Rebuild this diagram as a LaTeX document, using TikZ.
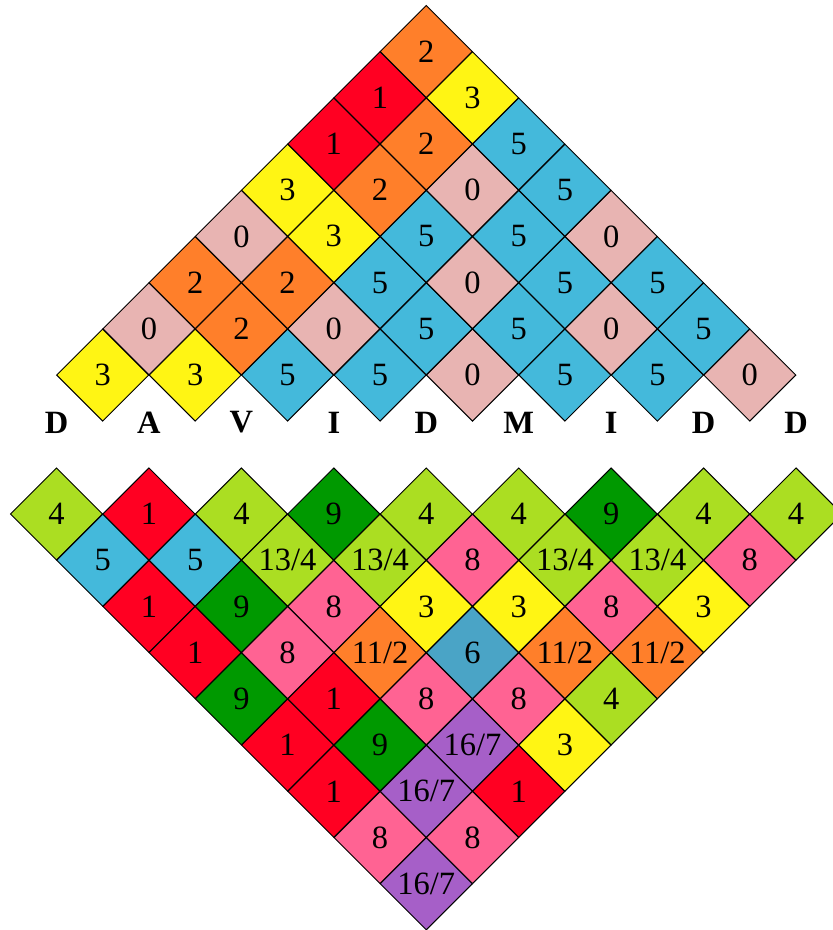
\documentclass[tikz,border=0pt]{standalone}
\usepackage{fontspec}
\setmainfont{Liberation Serif}
\usetikzlibrary{shapes.geometric}

\definecolor{yel}{HTML}{FFF514}
\definecolor{ros}{HTML}{E8B4B2}
\definecolor{org}{HTML}{FF7F2A}
\definecolor{rd}{HTML}{FF0022}
\definecolor{blu}{HTML}{44B9DB}
\definecolor{stl}{HTML}{4AA4C6}
\definecolor{lim}{HTML}{ABDE22}
\definecolor{grn}{HTML}{009900}
\definecolor{pnk}{HTML}{FF6393}
\definecolor{pur}{HTML}{A65FC8}

\newcommand*{\topy}{8.114}
\newcommand*{\boty}{11.12}
\newcommand*{\lety}{9.14}

\begin{document}
\begin{tikzpicture}
[
	cell/.style={diamond,draw,line width=0.6pt,inner sep=0pt,minimum width=2cm,minimum height=2cm,font=\fontsize{20}{24}\selectfont},
	letter/.style={font=\fontsize{20}{24}\selectfont\bfseries}
]
	\useasboundingbox (-1.222,0) rectangle (16.778,-20.12);

	% upper triangle, bottom row first
	\foreach \row [count=\r from 0] in {
	  {3/yel,3/yel,5/blu,5/blu,0/ros,5/blu,5/blu,0/ros},
	  {0/ros,2/org,0/ros,5/blu,5/blu,0/ros,5/blu},
	  {2/org,2/org,5/blu,0/ros,5/blu,5/blu},
	  {0/ros,3/yel,5/blu,5/blu,0/ros},
	  {3/yel,2/org,0/ros,5/blu},
	  {1/rd,2/org,5/blu},
	  {1/rd,3/yel},
	  {2/org}}
	  \foreach \v/\c [count=\k from 0] in \row
	    \node[cell,fill=\c] (t\r-\k) at ({1+2*\k+\r},{\r-\topy}) {\v};

	% the name
	\foreach \l [count=\k from 0] in {D,A,V,I,D,M,I,D,D}
	  \node[letter] (l\k) at ({2*\k},-\lety) {\l};

	% lower triangle, top row first
	\foreach \row [count=\r from 0] in {
	  {4/lim,1/rd,4/lim,9/grn,4/lim,4/lim,9/grn,4/lim,4/lim},
	  {5/blu,5/blu,{13/4}/lim,{13/4}/lim,8/pnk,{13/4}/lim,{13/4}/lim,8/pnk},
	  {1/rd,9/grn,8/pnk,3/yel,3/yel,8/pnk,3/yel},
	  {1/rd,8/pnk,{11/2}/org,6/stl,{11/2}/org,{11/2}/org},
	  {9/grn,1/rd,8/pnk,8/pnk,4/lim},
	  {1/rd,9/grn,{16/7}/pur,3/yel},
	  {1/rd,{16/7}/pur,1/rd},
	  {8/pnk,8/pnk},
	  {{16/7}/pur}}
	  \foreach \v/\c [count=\k from 0] in \row
	    \node[cell,fill=\c] (b\r-\k) at ({2*\k+\r},{-\boty-\r}) {\v};

\end{tikzpicture}
\end{document}
